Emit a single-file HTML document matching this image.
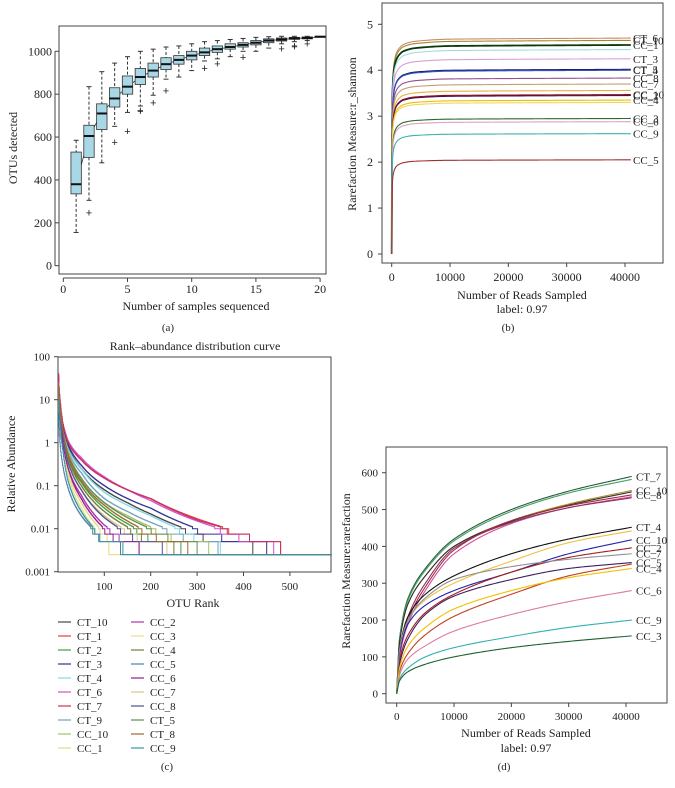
<!DOCTYPE html>
<html><head><meta charset="utf-8"><style>
html,body{margin:0;padding:0;background:#fff;}
svg{display:block;font-family:"Liberation Serif",serif;}
text{fill:#222;}
</style></head><body>
<svg id="fig" width="675" height="788" viewBox="0 0 675 788" xmlns="http://www.w3.org/2000/svg">
<g id="pa"></g>
<g id="pb"></g>
<g id="pc"></g>
<g id="pd"></g>
</svg>
<script>
// ===== Panel A data =====
const aSamples = [1,2,3,4,5,6,7,8,9,10,11,12,13,14,15,16,17,18,19,20];
const aMedian = [380,605,710,780,835,880,910,940,960,980,995,1010,1020,1030,1040,1050,1055,1060,1062,1068];
const aQ1 = [335,505,635,740,800,845,880,915,940,960,980,995,1010,1020,1030,1040,1048,1056,1058,1066];
const aQ3 = [530,655,755,830,885,920,945,970,980,1000,1015,1025,1035,1040,1050,1058,1062,1065,1067,1070];
const aLow = [155,305,480,650,715,745,795,870,880,910,955,965,975,1000,1000,1015,1035,1045,1050,1068];
const aHigh = [585,835,905,945,975,1000,1010,1020,1025,1035,1045,1050,1055,1060,1065,1068,1070,1070,1070,1068];
const aOutliers = [[],[245],[],[575],[625],[720,725],[760],[815],[],[],[920],[940],[],[970],[],[],[1010],[1020,1025],[1035],[]];
const aYTicks = [0,200,400,600,800,1000];
const aXTicks = [0,5,10,15,20];

// ===== Panel B data =====
const bLabels = ["CT_6","CT_10","CC_1","CT_9","CT_3","CT_5","CT_4","CC_8","CC_7","CC_1","CC_10","CC_2","CC_4","CC_7","CC_3","CC_6","CC_9","CC_5"];
const bFinal = [4.70,4.65,4.55,4.45,4.25,4.02,4.00,3.83,3.70,3.56,3.47,3.45,3.35,3.30,2.95,2.88,2.62,2.05];
const bColors = ["#c98a6a","#a08a30","#0a3a0a","#a8d8e8","#d8a0d8","#1a1a70","#3050c0","#905090","#c0a070","#e8b040","#901010","#501050","#e8c000","#f0d860","#2a6a2a","#e0a0c0","#40b0b0","#a03030"];
const bX = [0,100,250,500,800,1200,2000,4000,10000,41000];
const bFrac = [0,0.72,0.84,0.9,0.93,0.95,0.97,0.985,0.995,1];
const bXTicks = [0,10000,20000,30000,40000];
const bYTicks = [0,1,2,3,4,5];

// ===== Panel C data =====
const cRanks = [1,5,10,20,50,100,150,200,300,400,500];
const cNames = ["CT_10","CT_1","CT_2","CT_3","CT_4","CT_6","CT_7","CT_9","CC_10","CC_1","CC_2","CC_3","CC_4","CC_5","CC_6","CC_7","CC_8","CT_5","CT_8","CC_9"];
const cColors = ["#444444","#e04040","#40a040","#303090","#80d8e8","#d050d0","#c83060","#70a0c0","#a8c060","#e8d880","#b030b0","#e8e090","#708030","#5080a8","#902090","#d8c890","#505090","#609050","#a06830","#3098a8"];
const cEnd = [420,480,265,450,350,465,480,345,325,110,175,110,250,135,175,235,225,300,280,140];
const cVals = [
 [25,6,2.5,0.9,0.25,0.08,0.04,0.022,0.008,0.005,0.005],
 [40,8,3,1.2,0.4,0.15,0.08,0.05,0.017,0.008,0.005],
 [20,4,1.5,0.5,0.12,0.03,0.013,0.007,0.005,0.005,0.005],
 [30,6,2.5,1,0.3,0.1,0.05,0.03,0.01,0.006,0.005],
 [20,5,2,0.8,0.25,0.07,0.035,0.02,0.007,0.005,0.005],
 [30,7,3,1.2,0.45,0.16,0.08,0.045,0.015,0.007,0.005],
 [35,8,3,1.1,0.4,0.15,0.08,0.05,0.016,0.008,0.005],
 [25,5,2,0.7,0.2,0.05,0.025,0.014,0.006,0.005,0.005],
 [20,5,2,0.7,0.15,0.04,0.02,0.011,0.005,0.005,0.005],
 [15,3,1,0.25,0.04,0.008,0.005,0.005,0.005,0.005,0.005],
 [20,4,1.2,0.3,0.06,0.012,0.006,0.005,0.005,0.005,0.005],
 [10,2,0.8,0.2,0.03,0.006,0.005,0.005,0.005,0.005,0.005],
 [20,4,1.5,0.5,0.1,0.025,0.011,0.006,0.005,0.005,0.005],
 [5,0.8,0.3,0.1,0.02,0.006,0.005,0.005,0.005,0.005,0.005],
 [15,3,1,0.3,0.05,0.01,0.005,0.005,0.005,0.005,0.005],
 [15,4,1.5,0.4,0.08,0.02,0.009,0.006,0.005,0.005,0.005],
 [15,4,1.5,0.4,0.08,0.018,0.008,0.006,0.005,0.005,0.005],
 [20,5,2,0.6,0.15,0.04,0.018,0.01,0.005,0.005,0.005],
 [25,5,2,0.6,0.13,0.035,0.015,0.008,0.005,0.005,0.005],
 [10,2,0.7,0.15,0.025,0.006,0.005,0.005,0.005,0.005,0.005]
];
const cMaxRank = 590;
const cYTicks = [100,10,1,0.1,0.01,0.001];
const cYTickLabels = ["100","10","1","0.1","0.01","0.001"];
const cXTicks = [100,200,300,400,500];

// ===== Panel D data =====
const dX = [0,500,2000,5000,10000,20000,30000,41000];
const dShow = ["CT_7","","CC_10","","CC_8","","","CT_4","","CC_10","CC_2","CC_7","CC_5","","CC_4","CC_6","CC_9","CC_3"];
const dColors = ["#2a5a3a","#40a060","#b09030","#303030","#a03040","#d050a0","#903060","#101010","#f0c040","#2020b0","#a02020","#909090","#402060","#c04020","#f0c000","#e07aa0","#30b0b0","#206030"];
const dVals = [
 [0,150,260,340,420,500,550,590],
 [0,150,255,335,415,495,545,582],
 [0,140,245,320,400,470,515,552],
 [0,140,245,320,400,468,512,548],
 [0,100,200,290,390,470,510,540],
 [0,100,190,280,380,462,505,535],
 [0,110,210,300,395,465,505,532],
 [0,120,210,270,320,380,420,452],
 [0,110,200,255,300,360,410,442],
 [0,110,190,240,280,330,380,418],
 [0,90,160,220,270,330,370,396],
 [0,120,200,260,310,345,365,380],
 [0,80,150,215,265,310,340,356],
 [0,60,110,160,210,270,320,352],
 [0,70,130,180,230,280,315,340],
 [0,50,95,130,170,215,250,280],
 [0,40,70,100,125,155,180,200],
 [0,35,60,80,100,125,142,157]
];
const dXTicks = [0,10000,20000,30000,40000];
const dYTicks = [0,100,200,300,400,500,600];

// ===== helpers =====
const NS = "http://www.w3.org/2000/svg";
function mk(parent, tag, attrs, txt){
  const e = document.createElementNS(NS, tag);
  for (const k in attrs) e.setAttribute(k, attrs[k]);
  if (txt !== undefined) e.textContent = txt;
  parent.appendChild(e);
  return e;
}
function txt(p, x, y, s, opts){
  const o = Object.assign({x:x, y:y, "font-size":12, "text-anchor":"middle"}, opts||{});
  const t = mk(p, "text", o, s);
  
  
  return t;
}
function frame(p, x0, y0, x1, y1){
  const r = mk(p, "rect", {x:x0, y:y0, width:x1-x0, height:y1-y0, fill:"none", stroke:"#444", "stroke-width":1});
  
  
}
function interp(xs, ys, x){
  for (let i=0;i<xs.length-1;i++){
    if (x<=xs[i+1]){ const t=(x-xs[i])/(xs[i+1]-xs[i]); return ys[i]+t*(ys[i+1]-ys[i]); }
  }
  return ys[ys.length-1];
}
function mono(xs, ys, x){
  const n = xs.length, d=[], m=[];
  for (let i=0;i<n-1;i++) d.push((ys[i+1]-ys[i])/(xs[i+1]-xs[i]));
  m.push(d[0]);
  for (let i=1;i<n-1;i++) m.push(d[i-1]*d[i]<=0?0:2/(1/d[i-1]+1/d[i]));
  m.push(d[n-2]);
  let i=0; while(i<n-2 && x>xs[i+1]) i++;
  const h=xs[i+1]-xs[i], t=(x-xs[i])/h;
  const h00=2*t*t*t-3*t*t+1, h10=t*t*t-2*t*t+t, h01=-2*t*t*t+3*t*t, h11=t*t*t-t*t;
  return h00*ys[i]+h10*h*m[i]+h01*ys[i+1]+h11*h*m[i+1];
}

// ===== Panel A =====
(function(){
  const g = document.getElementById("pa");
  const X = v => 63.3 + v*12.84;
  const Y = v => 265.7 - v*0.2144;
  frame(g, 59, 26, 326, 274);
  aYTicks.forEach(v=>{ mk(g,"line",{x1:55,x2:59,y1:Y(v),y2:Y(v),stroke:"#444"}); txt(g,52,Y(v)+4,String(v),{"text-anchor":"end"}); });
  aXTicks.forEach(v=>{ mk(g,"line",{x1:X(v),x2:X(v),y1:278,y2:282,stroke:"#444"}); txt(g,X(v),293,String(v)); });
  mk(g,"line",{x1:X(0),x2:X(20),y1:278,y2:278,stroke:"#444"});
  mk(g,"line",{x1:55,x2:55,y1:Y(0),y2:Y(1000),stroke:"#444"});
  txt(g,196,310,"Number of samples sequenced");
  txt(g,17,148,"OTUs detected",{transform:"rotate(-90 17 148)"});
  txt(g,168,331,"(a)",{"font-size":11});
  const medLine = aSamples.map((s,i)=>X(s)+","+Y(aMedian[i])).join(" ");
  const ml = mk(g,"polyline",{points:medLine,fill:"none",stroke:"#333","stroke-width":0.8});
  
  
  const hw = 5.2;
  aSamples.forEach((s,i)=>{
    const bg = mk(g,"g",{});
    
    
    const cx = X(s);
    mk(bg,"line",{x1:cx,x2:cx,y1:Y(aHigh[i]),y2:Y(aQ3[i]),stroke:"#333","stroke-dasharray":"3,2"});
    mk(bg,"line",{x1:cx,x2:cx,y1:Y(aQ1[i]),y2:Y(aLow[i]),stroke:"#333","stroke-dasharray":"3,2"});
    mk(bg,"line",{x1:cx-2.5,x2:cx+2.5,y1:Y(aHigh[i]),y2:Y(aHigh[i]),stroke:"#333"});
    mk(bg,"line",{x1:cx-2.5,x2:cx+2.5,y1:Y(aLow[i]),y2:Y(aLow[i]),stroke:"#333"});
    mk(bg,"rect",{x:cx-hw,y:Y(aQ3[i]),width:hw*2,height:Math.max(1,Y(aQ1[i])-Y(aQ3[i])),fill:"#a8d8e6",stroke:"#333","stroke-width":0.8});
    mk(bg,"line",{x1:cx-hw,x2:cx+hw,y1:Y(aMedian[i]),y2:Y(aMedian[i]),stroke:"#111","stroke-width":2});
    aOutliers[i].forEach(o=>{
      mk(bg,"text",{x:cx,y:Y(o)+3.5,"font-size":11,"text-anchor":"middle","font-family":"Liberation Sans, sans-serif"},"+");
    });
  });
})();

// ===== Panel B =====
(function(){
  const g = document.getElementById("pb");
  const X = v => 391.7 + v*(233.3/40000);
  const Y = v => 254 - v*45.94;
  frame(g, 382, 3, 663, 263);
  bYTicks.forEach(v=>{ mk(g,"line",{x1:378,x2:382,y1:Y(v),y2:Y(v),stroke:"#444"}); txt(g,373,Y(v)+4,String(v),{"text-anchor":"end"}); });
  bXTicks.forEach(v=>{ mk(g,"line",{x1:X(v),x2:X(v),y1:263,y2:267,stroke:"#444"}); txt(g,X(v),281,String(v)); });
  txt(g,522,299,"Number of Reads Sampled");
  txt(g,522,313,"label: 0.97");
  txt(g,356,134,"Rarefaction Measure:r_shannon",{transform:"rotate(-90 356 134)"});
  txt(g,508,331,"(b)",{"font-size":11});
  bFinal.forEach((f,i)=>{
    let d = "";
    for (let x=0;x<=41000;x+=(x<2000?25:500)){
      const v = f*mono(bX,bFrac,x);
      d += (x===0?"M":"L")+X(x).toFixed(2)+","+Y(v).toFixed(2);
    }
    const pl = mk(g,"path",{d:d,fill:"none",stroke:bColors[i],"stroke-width":(i==2?1.8:1.1)});
    
    
    if (i!==3 && i!==9 && i!==13) txt(g,633,Y(f)+4,bLabels[i],{"text-anchor":"start",fill:bColors[i],"font-size":11});
  });
})();

// ===== Panel C =====
(function(){
  const g = document.getElementById("pc");
  const X = v => 57.9 + v*0.464;
  const Y = v => 571.7 - (Math.log10(v)+3)*43;
  txt(g,195,350,"Rank\u2013abundance distribution curve");
  frame(g, 58, 357, 331, 572);
  cYTicks.forEach((v,i)=>{ mk(g,"line",{x1:54,x2:58,y1:Y(v),y2:Y(v),stroke:"#444"}); txt(g,50,Y(v)+4,cYTickLabels[i],{"text-anchor":"end","font-size":11}); });
  cXTicks.forEach(v=>{ mk(g,"line",{x1:X(v),x2:X(v),y1:572,y2:576,stroke:"#444"}); txt(g,X(v),590,String(v),{"font-size":11}); });
  txt(g,193,607,"OTU Rank");
  txt(g,15,464,"Relative Abundance",{transform:"rotate(-90 15 464)"});
  const lr = cRanks.map(r=>Math.log10(r));
  cNames.forEach((n,i)=>{
    const lv = cVals[i].map(v=>Math.log10(v));
    let d = "";
    let prevY = null;
    const last = cEnd[i];
    for (let r=1;r<=last;r++){
      let v = Math.pow(10, interp(lr, lv, Math.log10(r)));
      if (v < 0.011) v = Math.max(0.005, Math.floor(v/0.0025)*0.0025);
      if (r===last) v = 0.0025;
      const y = Y(v), x = X(r);
      if (prevY===null) d += "M"+x.toFixed(1)+","+y.toFixed(1);
      else { d += "L"+x.toFixed(1)+","+prevY.toFixed(1)+"L"+x.toFixed(1)+","+y.toFixed(1); }
      prevY = y;
    }
    d += "L"+X(cMaxRank).toFixed(1)+","+Y(0.0025).toFixed(1);
    const p = mk(g,"path",{d:d,fill:"none",stroke:cColors[i],"stroke-width":1});
    
    
  });
  cNames.forEach((n,i)=>{
    const col = i<10?0:1, row = i%10;
    const lx = col===0?58:131, ly = 622 + row*14;
    const lg = mk(g,"g",{});
    
    
    mk(lg,"line",{x1:lx,x2:lx+13,y1:ly,y2:ly,stroke:cColors[i],"stroke-width":1.2});
    mk(lg,"text",{x:lx+19,y:ly+4,"font-size":11},n);
  });
  txt(g,167,770,"(c)",{"font-size":11});
})();

// ===== Panel D =====
(function(){
  const g = document.getElementById("pd");
  const X = v => 396.7 + v*(229.3/40000);
  const Y = v => 693.7 - v*0.3683;
  frame(g, 386, 447, 667, 703);
  dYTicks.forEach(v=>{ mk(g,"line",{x1:382,x2:386,y1:Y(v),y2:Y(v),stroke:"#444"}); txt(g,378,Y(v)+4,String(v),{"text-anchor":"end","font-size":11}); });
  dXTicks.forEach(v=>{ mk(g,"line",{x1:X(v),x2:X(v),y1:703,y2:707,stroke:"#444"}); txt(g,X(v),720,String(v),{"font-size":11}); });
  txt(g,526,737,"Number of Reads Sampled");
  txt(g,526,752,"label: 0.97");
  txt(g,350,571,"Rarefaction Measure:rarefaction",{transform:"rotate(-90 350 571)"});
  txt(g,504,770,"(d)",{"font-size":11});
  dVals.forEach((vals,i)=>{
    let d = "";
    for (let x=0;x<=41000;x+=(x<2000?50:250)){
      const v = mono(dX, vals, x);
      d += (x===0?"M":"L")+X(x).toFixed(2)+","+Y(v).toFixed(2);
    }
    const p = mk(g,"path",{d:d,fill:"none",stroke:dColors[i],"stroke-width":1.1});
    
    
    if (dShow[i]) txt(g,636,Y(vals[vals.length-1])+4,dShow[i],{"text-anchor":"start",fill:dColors[i],"font-size":11});
  });
})();
</script>
</body></html>
